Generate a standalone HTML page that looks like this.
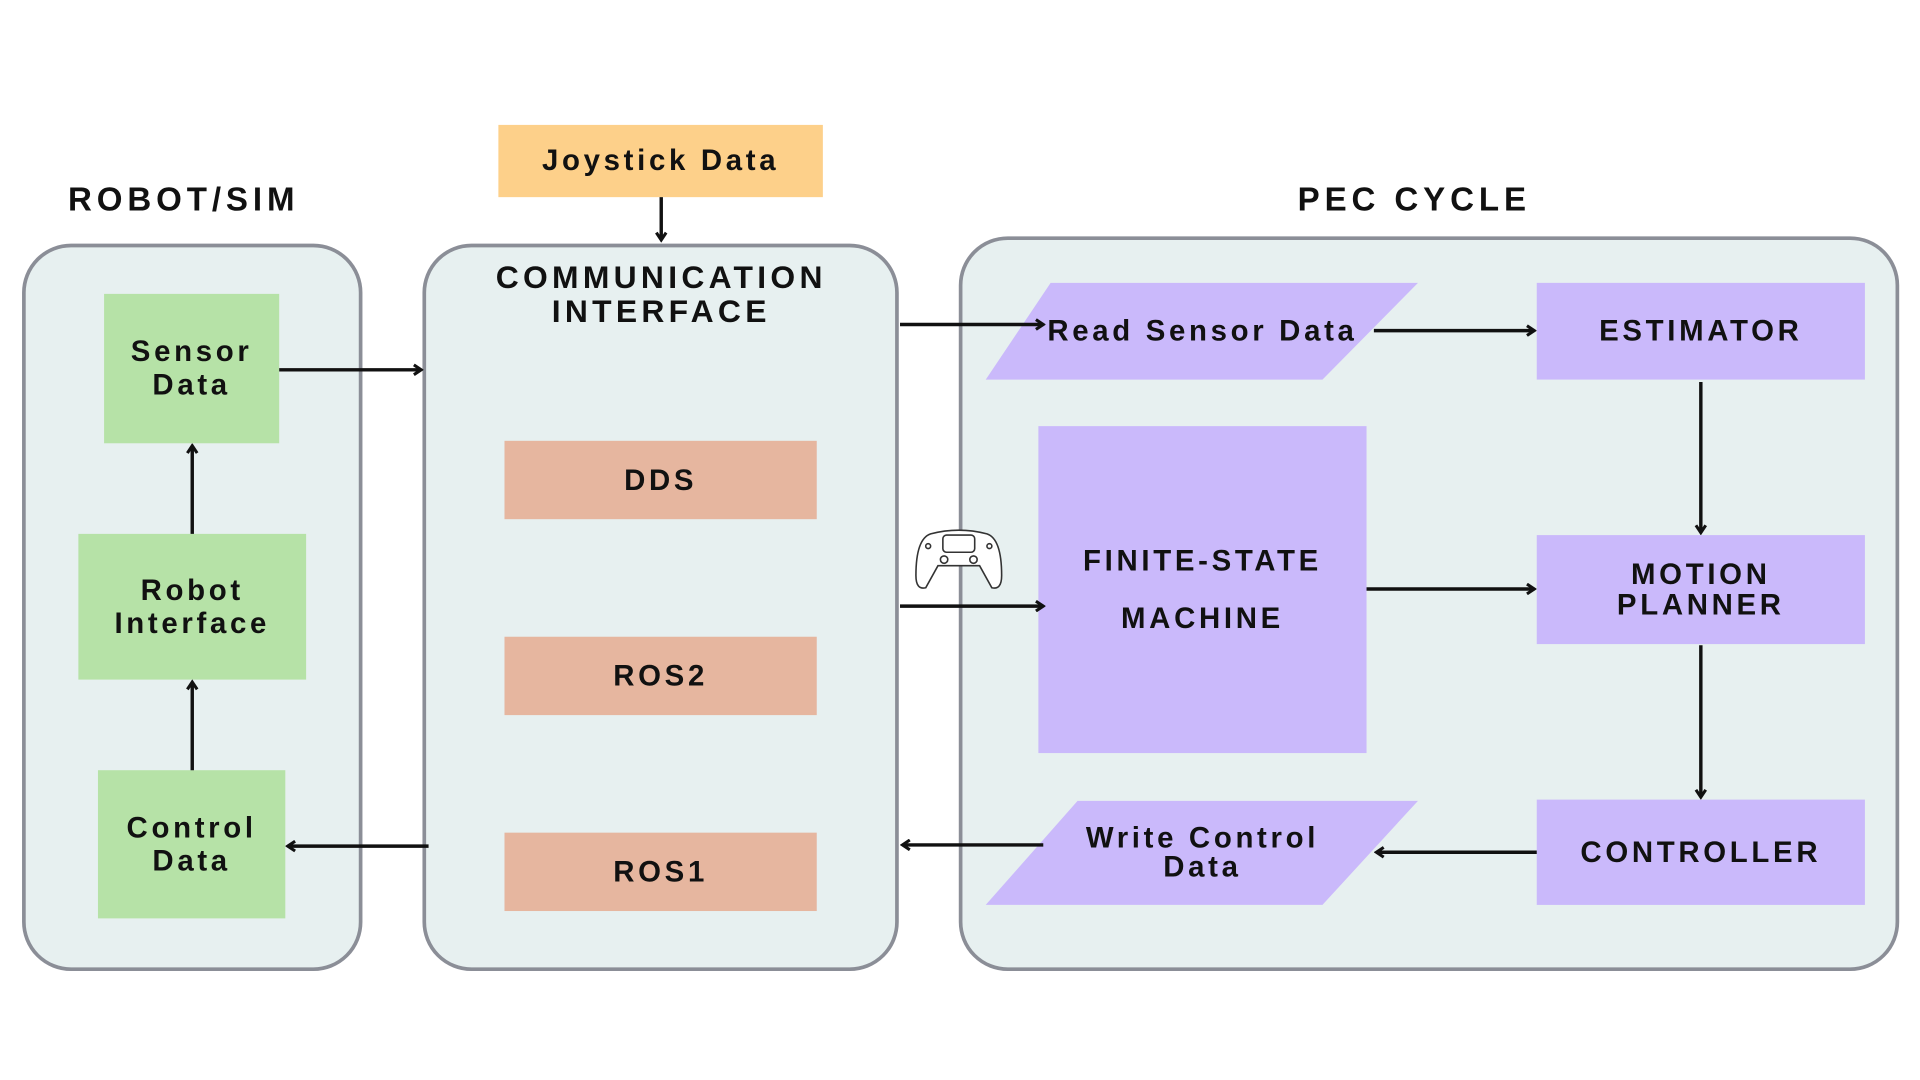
<!DOCTYPE html>
<html><head><meta charset="utf-8"><style>
html,body{margin:0;padding:0;background:#fff;width:1920px;height:1080px;overflow:hidden}
#s{position:absolute;left:0;top:0;width:1568px;height:882px;transform:scale(1.2245);transform-origin:0 0;font-family:"Liberation Sans",sans-serif;font-weight:bold;color:#111}
.c{position:absolute;border:3px solid #8b8e97;border-radius:40px;background:#e7f0f0;box-sizing:border-box}
.b{position:absolute;display:flex;align-items:center;justify-content:center;text-align:center;letter-spacing:3px;font-size:24px;line-height:27px;box-sizing:border-box}
.g{background:#b6e2a7}.o{background:#e6b69f}.p{background:#cab9fb}
.t{position:absolute;text-align:center;letter-spacing:4px;font-size:27px}
svg{position:absolute;left:0;top:0}
</style></head><body><div id="s">
<div class="t" style="left:30px;width:240px;top:148px">ROBOT/SIM</div>
<div class="t" style="left:1030px;width:250px;top:148px">PEC CYCLE</div>
<div class="c" style="left:18px;top:199px;width:278px;height:594px"></div>
<div class="c" style="left:345px;top:199px;width:389px;height:594px"></div>
<div class="c" style="left:783px;top:193px;width:768px;height:600px"></div>
<div class="b" style="left:407px;top:102px;width:265px;height:59px;background:#fdd08a">Joystick Data</div>
<div class="t" style="left:350px;width:380px;top:212px;font-size:26px;line-height:28px;letter-spacing:3.5px">COMMUNICATION<br>INTERFACE</div>
<div class="b g" style="left:85px;top:240px;width:143px;height:122px">Sensor<br>Data</div>
<div class="b g" style="left:64px;top:436px;width:186px;height:119px">Robot<br>Interface</div>
<div class="b g" style="left:80px;top:629px;width:153px;height:121px">Control<br>Data</div>
<div class="b o" style="left:412px;top:360px;width:255px;height:64px">DDS</div>
<div class="b o" style="left:412px;top:520px;width:255px;height:64px">ROS2</div>
<div class="b o" style="left:412px;top:680px;width:255px;height:64px">ROS1</div>
<div class="b p" style="left:1255px;top:231px;width:268px;height:79px">ESTIMATOR</div>
<div class="b p" style="left:848px;top:348px;width:268px;height:267px;line-height:47px">FINITE-STATE<br>MACHINE</div>
<div class="b p" style="left:1255px;top:437px;width:268px;height:89px;line-height:25px">MOTION<br>PLANNER</div>
<div class="b p" style="left:1255px;top:653px;width:268px;height:86px">CONTROLLER</div>
<svg width="1568" height="882">
<defs><marker id="a" markerWidth="10" markerHeight="10" refX="8" refY="5" orient="auto" markerUnits="userSpaceOnUse"><path d="M2,1 L8,5 L2,9" fill="none" stroke="#111" stroke-width="2.5"/></marker></defs>
<polygon points="858,231 1158,231 1080,310 805,310" fill="#cab9fb"/>
<polygon points="880,654 1158,654 1080,739 805,739" fill="#cab9fb"/>
<g stroke="#111" stroke-width="2.8" fill="none" marker-end="url(#a)">
<line x1="540" y1="161" x2="540" y2="196"/>
<line x1="157" y1="436" x2="157" y2="364"/>
<line x1="157" y1="629" x2="157" y2="557"/>
<line x1="228" y1="302" x2="344" y2="302"/>
<line x1="350" y1="691" x2="235" y2="691"/>
<line x1="735" y1="265" x2="852" y2="265"/>
<line x1="1122" y1="270" x2="1253" y2="270"/>
<line x1="1389" y1="312" x2="1389" y2="435"/>
<line x1="735" y1="495" x2="852" y2="495"/>
<line x1="1116" y1="481" x2="1253" y2="481"/>
<line x1="1389" y1="527" x2="1389" y2="651"/>
<line x1="1255" y1="696" x2="1124" y2="696"/>
<line x1="852" y1="690" x2="737" y2="690"/>
</g>
<g stroke="#333" stroke-width="1.3" fill="#fff">
<path d="M760,436 Q783,430 806,436 Q818,440 818,470 Q818,482 810,480 L800,462 L766,462 L756,480 Q748,482 748,470 Q748,440 760,436Z"/>
<rect x="770" y="437" width="26" height="14" rx="3"/>
<circle cx="771" cy="457" r="3"/><circle cx="795" cy="457" r="3"/>
<circle cx="758" cy="446" r="2"/><circle cx="808" cy="446" r="2"/>
</g>
<g font-family="Liberation Sans,sans-serif" font-weight="bold" font-size="24" letter-spacing="3" text-anchor="middle" fill="#111">
<text x="982" y="278">Read Sensor Data</text>
<text x="982" y="692">Write Control</text>
<text x="982" y="716">Data</text>
</g>
</svg>
</div></body></html>
